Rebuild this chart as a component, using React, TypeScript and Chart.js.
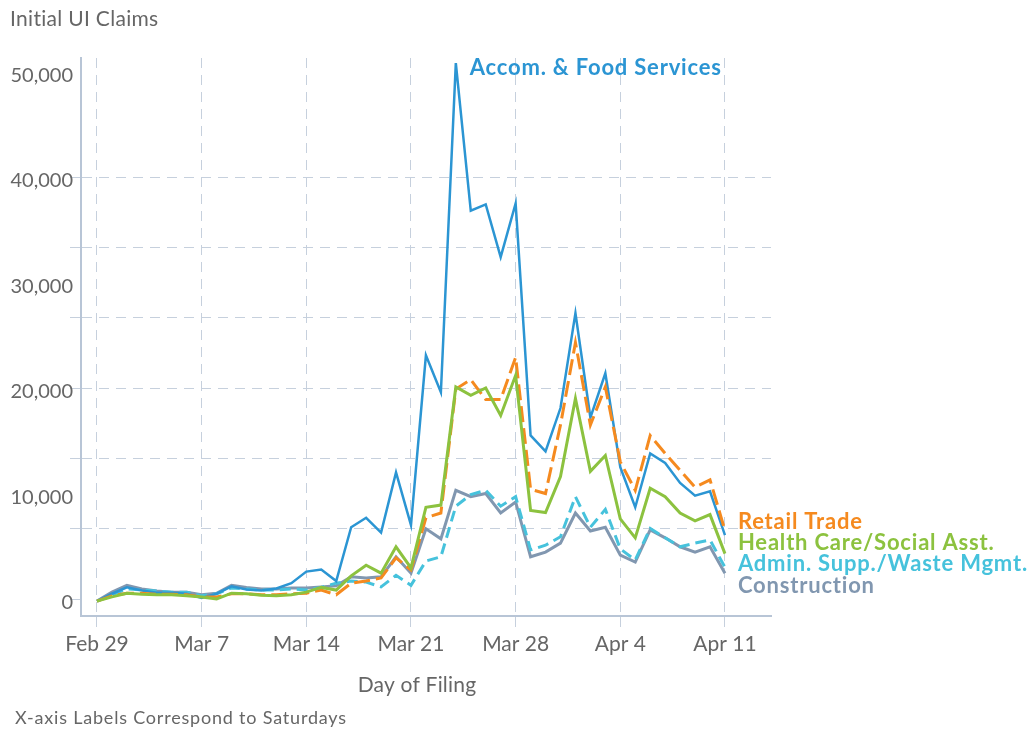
import React, { useEffect, useRef } from "react";
import { Chart, registerables } from "chart.js";

Chart.register(...registerables);

const dayLabels = [
  "Feb 29", "Mar 1", "Mar 2", "Mar 3", "Mar 4", "Mar 5", "Mar 6",
  "Mar 7", "Mar 8", "Mar 9", "Mar 10", "Mar 11", "Mar 12", "Mar 13",
  "Mar 14", "Mar 15", "Mar 16", "Mar 17", "Mar 18", "Mar 19", "Mar 20",
  "Mar 21", "Mar 22", "Mar 23", "Mar 24", "Mar 25", "Mar 26", "Mar 27",
  "Mar 28", "Mar 29", "Mar 30", "Mar 31", "Apr 1", "Apr 2", "Apr 3",
  "Apr 4", "Apr 5", "Apr 6", "Apr 7", "Apr 8", "Apr 9", "Apr 10",
  "Apr 11",
];

const saturdayIdx = [0, 7, 14, 21, 28, 35, 42];

const accomFood = [
  -200, 500, 1100, 800, 600, 600, 500, 100, 500, 1200,
  900, 800, 1000, 1500, 2600, 2800, 1700, 6800, 7700, 6300,
  12000, 7000, 23100, 19600, 50800, 36800, 37400, 32400, 37500, 15500,
  14000, 18100, 27100, 17200, 21400, 12500, 8700, 13800, 12900, 11000,
  9800, 10200, 6050,
];
const retailTrade = [
  -200, 300, 550, 550, 450, 450, 400, 200, 200, 500,
  500, 400, 400, 500, 550, 850, 400, 1500, 1700, 2000,
  3900, 2750, 7700, 8150, 19900, 20800, 18900, 18900, 22900, 10400,
  10000, 16500, 24300, 16500, 20100, 13000, 10300, 15500, 13800, 12200,
  10600, 11300, 6500,
];
const healthCare = [
  -200, 200, 550, 450, 400, 400, 300, 200, 0, 550,
  500, 350, 300, 400, 650, 1100, 850, 2200, 3200, 2450,
  4950, 2950, 8700, 8900, 20100, 19300, 20000, 17400, 21200, 8400,
  8200, 11600, 19000, 12100, 13600, 7600, 5800, 10500, 9700, 8150,
  7400, 8000, 4300,
];
const adminSupp = [
  -200, 400, 950, 850, 750, 650, 650, 300, 500, 1050,
  950, 850, 850, 950, 850, 1100, 1500, 1700, 1600, 1150,
  2250, 1300, 3600, 4000, 8800, 9900, 10300, 8800, 9700, 4650,
  5100, 5900, 9700, 6800, 8500, 4750, 3700, 6700, 5800, 4950,
  5300, 5600, 3000,
];
const construction = [
  -200, 650, 1300, 950, 750, 650, 650, 400, 550, 1300,
  1100, 950, 950, 1050, 1050, 1150, 1250, 2100, 2000, 2100,
  4000, 2450, 6650, 5700, 10300, 9700, 10000, 8150, 9200, 4000,
  4450, 5300, 8150, 6450, 6800, 4150, 3500, 6550, 5800, 4950,
  4450, 4950, 2450,
];

const labelTicks = [0, 10000, 20000, 30000, 40000, 50000];
const gridStep = 20000 / 3;
const gridCount = 7;

const FONT = "Lato, 'DejaVu Sans', sans-serif";
const TEXT = "#666666";
const GRID = "#c6d0dd";
const AXIS = "#b8c5d6";

const BLUE = "#2b95d3";
const ORANGE = "#f58a1f";
const GREEN = "#8cc23f";
const CYAN = "#46c2dc";
const GRAY = "#8197b0";

function toPoints(arr: number[]) {
  return arr.map((v, i) => ({ x: i, y: v }));
}

export default function App() {
  const ref = useRef<HTMLCanvasElement | null>(null);

  useEffect(() => {
    const canvas = ref.current;
    if (!canvas) return;

    const gridVals: number[] = [];
    for (let k = 1; k < gridCount; k++) gridVals.push(k * gridStep);
    const isGrid = (v: number) => gridVals.some((g) => Math.abs(g - v) < 1e-6);
    const yTicks = [...labelTicks, ...gridVals.filter((g) => !labelTicks.some((l) => Math.abs(l - g) < 1e-6))].sort((a, b) => a - b);

    const textPlugin = {
      id: "texts",
      afterDraw(chart: any) {
        const ctx = chart.ctx;
        const xs = chart.scales.x;
        const ys = chart.scales.y;
        ctx.save();
        ctx.textBaseline = "middle";
        ctx.textAlign = "left";
        ctx.fillStyle = TEXT;
        ctx.font = `21px ${FONT}`;
        (ctx as any).letterSpacing = "0.3px";
        ctx.fillText("Initial UI Claims", 10, 19);
        ctx.font = `21px ${FONT}`;
        (ctx as any).letterSpacing = "0.2px";
        ctx.textAlign = "center";
        ctx.fillText("Day of Filing", 417, 685);
        ctx.textAlign = "left";
        ctx.font = `18px ${FONT}`;
        (ctx as any).letterSpacing = "0.8px";
        ctx.fillText("X-axis Labels Correspond to Saturdays", 15, 718);

        // series labels
        ctx.font = `bold 22px ${FONT}`;
        (ctx as any).letterSpacing = "0.8px";
        const peakIdx = accomFood.indexOf(Math.max(...accomFood));
        ctx.fillStyle = BLUE;
        ctx.fillText(
          "Accom. & Food Services",
          xs.getPixelForValue(peakIdx) + 14,
          ys.getPixelForValue(accomFood[peakIdx]) + 5
        );
        const lx = xs.getPixelForValue(dayLabels.length - 1) + 13;
        const labels: [string, string][] = [
          ["Retail Trade", ORANGE],
          ["Health Care/Social Asst.", GREEN],
          ["Admin. Supp./Waste Mgmt.", CYAN],
          ["Construction", GRAY],
        ];
        labels.forEach(([t, c], i) => {
          ctx.fillStyle = c;
          ctx.fillText(t, lx, 521.5 + i * 21.4);
        });
        ctx.restore();
      },
    };

    const chart = new Chart(canvas, {
      type: "line",
      data: {
        datasets: [
          {
            label: "Health Care/Social Asst.",
            data: toPoints(healthCare),
            borderColor: GREEN,
            borderWidth: 3,
            order: 1,
          },
          {
            label: "Retail Trade",
            data: toPoints(retailTrade),
            borderColor: ORANGE,
            borderWidth: 3,
            borderDash: [16, 6],
            order: 2,
          },
          {
            label: "Accom. & Food Services",
            data: toPoints(accomFood),
            borderColor: BLUE,
            borderWidth: 2.5,
            order: 3,
          },
          {
            label: "Admin. Supp./Waste Mgmt.",
            data: toPoints(adminSupp),
            borderColor: CYAN,
            borderWidth: 3,
            borderDash: [11, 6],
            order: 4,
          },
          {
            label: "Construction",
            data: toPoints(construction),
            borderColor: GRAY,
            borderWidth: 3,
            order: 5,
          },
        ] as any,
      },
      options: {
        animation: false,
        responsive: false,
        maintainAspectRatio: false,
        layout: { padding: { top: 58, right: 260, left: 0, bottom: 0 } },
        elements: {
          point: { radius: 0, hoverRadius: 0 },
          line: { tension: 0, fill: false, borderJoinStyle: "miter", borderCapStyle: "butt" },
        },
        plugins: {
          legend: { display: false },
          tooltip: { enabled: false },
          title: { display: false },
        },
        scales: {
          x: {
            type: "linear",
            min: -1.07,
            max: 45.08,
            afterBuildTicks: (scale: any) => {
              scale.ticks = saturdayIdx.map((v) => ({ value: v }));
            },
            afterFit: (scale: any) => {
              scale.height = 116;
            },
            ticks: {
              autoSkip: false,
              maxRotation: 0,
              padding: 5,
              color: TEXT,
              font: { family: FONT, size: 21 },
              callback: (v: any) => dayLabels[v as number] ?? "",
            },
            grid: {
              color: GRID,
              lineWidth: 1,
              tickLength: 11,
              tickColor: GRID,
              tickBorderDash: [10, 7],
            },
            border: { display: true, color: AXIS, width: 2, dash: [10, 7] },
          },
          y: {
            type: "linear",
            min: -1611,
            max: 51280,
            afterBuildTicks: (scale: any) => {
              scale.ticks = yTicks.map((v) => ({ value: v }));
            },
            afterFit: (scale: any) => {
              scale.width = 81;
            },
            ticks: {
              autoSkip: false,
              padding: -3,
              labelOffset: 4,
              color: TEXT,
              font: { family: FONT, size: 20 },
              callback: (v: any) =>
                labelTicks.includes(v as number) ? (v as number).toLocaleString("en-US") : "",
            },
            grid: {
              color: (c: any) => (isGrid(c.tick.value) ? GRID : "rgba(0,0,0,0)"),
              lineWidth: 1,
              tickLength: 11,
              tickColor: (c: any) =>
                isGrid(c.tick.value) || c.tick.value === 0 ? GRID : "rgba(0,0,0,0)",
              tickBorderDash: [10, 7],
            },
            border: { display: true, color: AXIS, width: 2, dash: [10, 7] },
          },
        },
      } as any,
      plugins: [textPlugin],
    });

    return () => chart.destroy();
  }, []);

  return (
    <div style={{ position: "fixed", left: 0, top: 0, width: 1031, height: 732, background: "#fff" }}>
      <canvas ref={ref} width={1031} height={732} style={{ display: "block", width: 1031, height: 732 }} />
    </div>
  );
}
